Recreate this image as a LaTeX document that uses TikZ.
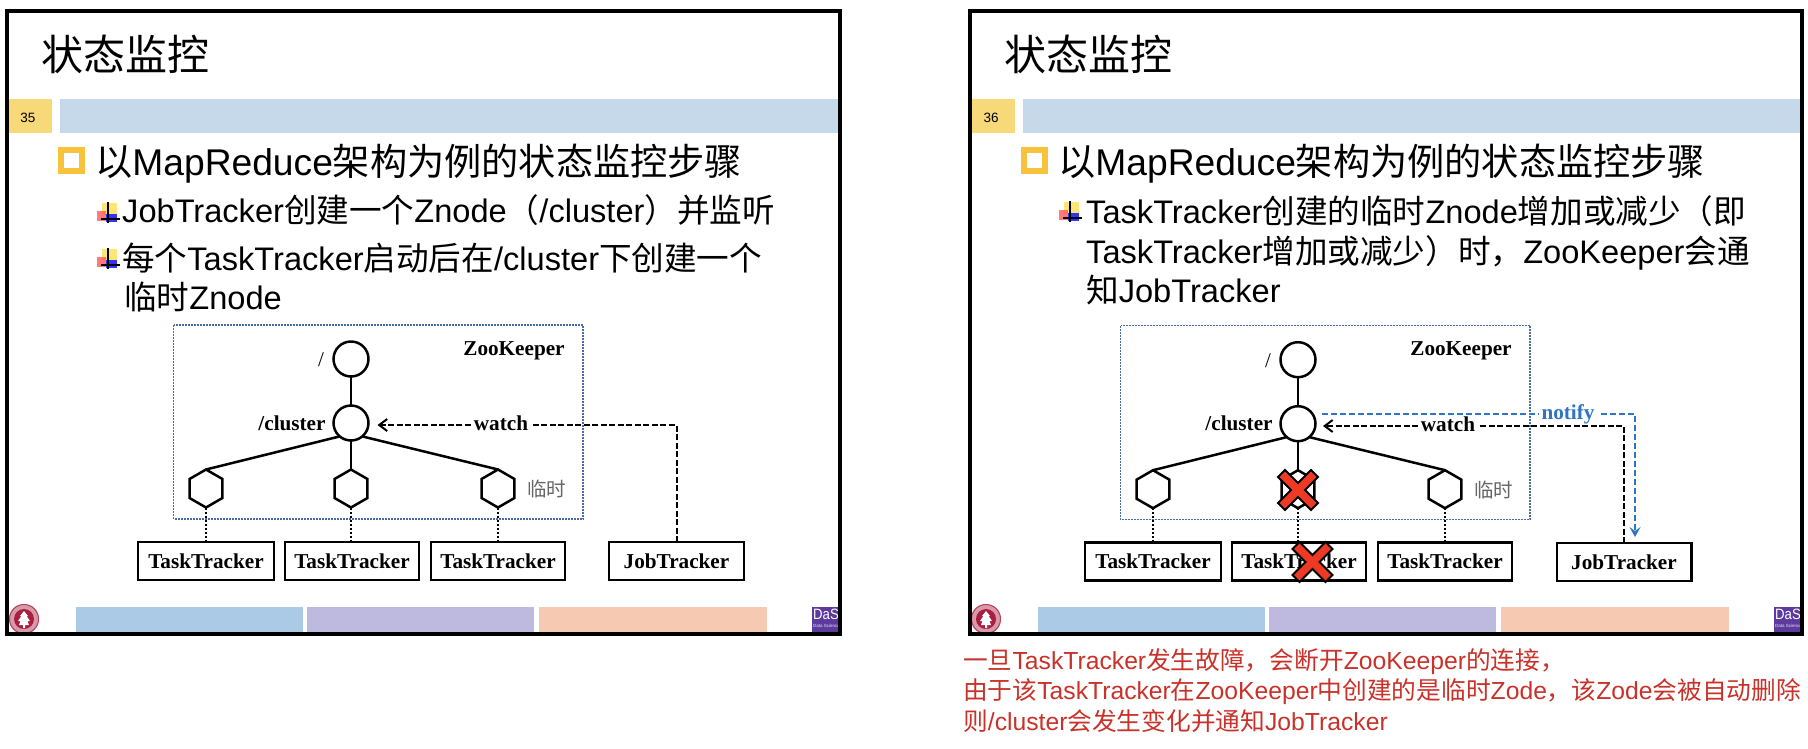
\documentclass[tikz,border=0pt]{standalone}
\usepackage{fontspec}
\setmainfont{Liberation Sans}
\newfontfamily\cjk{Noto Sans CJK SC}
\newfontfamily\tnr{Liberation Serif}
\usetikzlibrary{shapes.geometric,arrows.meta}
\newcommand\fs[1]{\fontsize{#1}{#1}\selectfont}
\newcommand\Z[1]{{\cjk #1}}
\definecolor{barblue}{HTML}{C6D9EA}
\definecolor{numyellow}{HTML}{F8D97A}
\definecolor{bulletyellow}{HTML}{F9C23C}
\definecolor{footblue}{HTML}{ABCAE6}
\definecolor{footpurple}{HTML}{BDB9DF}
\definecolor{footpeach}{HTML}{F6CAB2}
\definecolor{boxblue}{HTML}{4A6BA8}
\definecolor{notifyblue}{HTML}{2F75C4}
\definecolor{noteRed}{HTML}{C9322A}
\definecolor{xred}{HTML}{EE3A24}
\definecolor{sealred}{HTML}{A81F40}
\definecolor{dasepurple}{HTML}{5C3A9E}
\tikzset{
  slideframe/.style={draw=black,line width=4pt},
  titletext/.style={anchor=base west,inner sep=0pt,font=\fs{42}\cjk},
  headtext/.style={anchor=base west,inner sep=0pt,font=\fs{37.2}},
  subtext/.style={anchor=base west,inner sep=0pt,font=\fs{32.6}},
  notetext/.style={anchor=base west,inner sep=0pt,font=\fs{24.7},text=noteRed},
  numtext/.style={inner sep=0pt,font=\fs{13.5}},
  zkbox/.style={draw=boxblue,line width=1.2pt,dash pattern=on 2pt off 1pt},
  znode/.style={circle,draw=black,line width=2.5pt,minimum size=35pt,inner sep=0pt,outer sep=0pt},
  hexnode/.style={regular polygon,regular polygon sides=6,regular polygon rotate=30,draw=black,line width=2.5pt,minimum size=38pt,inner sep=0pt,outer sep=0pt},
  trackerbox/.style={draw=black,line width=2.5pt,minimum height=38pt,inner sep=0pt,outer sep=0pt,font=\fs{21.2}\tnr\bfseries},
  tnrlabel/.style={inner sep=0pt,font=\fs{21.2}\tnr\bfseries},
  treeline/.style={line width=2.5pt,black},
  dotline/.style={line width=2pt,dash pattern=on 2pt off 2pt,black},
  watchline/.style={line width=2pt,dash pattern=on 6pt off 2.5pt,black,-{Straight Barb[length=8pt,width=12pt]}},
  notifyline/.style={line width=2pt,dash pattern=on 6pt off 3pt,notifyblue,-{Stealth[length=10pt,width=11pt,inset=4pt]}},
  xmark/.style={fill=xred,draw=black,line width=2pt,line join=miter},
}
\newcommand\plusicon[2]{%
  \begin{scope}[shift={(#1,#2)}]
    \fill[yellow!70!orange,opacity=.55] (5,1) rectangle (20,13);
    \fill[red!65,opacity=.8] (0,9) rectangle (9,19);
    \fill[blue!80] (9,12) rectangle (20,20);
    \draw[black,line width=1.5pt] (11,0) -- (11,21);
    \draw[black,line width=1.5pt] (4,17) -- (23,17);
  \end{scope}}
\newcommand\redx[2]{\draw[xmark,shift={(#1,#2)}]
  (-13,-20) -- (0,-7) -- (13,-20) -- (20,-13) -- (7,0) -- (20,13) -- (13,20) -- (0,7) -- (-13,20) -- (-20,13) -- (-7,0) -- (-20,-13) -- cycle;}
\newcommand\seal[2]{%
  \begin{scope}[shift={(#1,#2)}]
    \fill[sealred!45] (0,0) circle (15);
    \draw[sealred!85,line width=1pt] (0,0) circle (14.5);
    \fill[sealred] (0,0) circle (10);
    \fill[white] (0,-8) -- (4,-3) -- (2.5,-3) -- (6,2) -- (3.5,2) -- (5,6) -- (1,6) -- (1,9) -- (-1,9) -- (-1,6) -- (-5,6) -- (-3.5,2) -- (-6,2) -- (-2.5,-3) -- (-4,-3) -- cycle;
  \end{scope}}
% offset, bar right end, number
\newcommand\slideback[3]{%
  \fill[numyellow] (#1+8,99) rectangle (#1+52,133);
  \fill[barblue] (#1+60,99) rectangle (#2,133);
  \node[numtext] (num#3) at (#1+28,118) {#3};
  \fill[bulletyellow] (#1+58,147) rectangle (#1+85,174);
  \fill[white] (#1+64,153) rectangle (#1+79,168);
  \node[titletext] (title#3) at (#1+41,70) {状态监控};
  \node[headtext] (head#3) at (#1+95,175) {\Z{以}MapReduce\Z{架构为例的状态监控步骤}};
}
\newcommand\slidefoot[2]{%
  \fill[footblue] (#1+76,607) rectangle (#1+303,634);
  \fill[footpurple] (#1+307,607) rectangle (#1+534,634);
  \fill[footpeach] (#1+539,607) rectangle (#1+767,634);
  \seal{#1+24}{619}
  \begin{scope}
    \clip (#1+812,607) rectangle (#2,636);
    \fill[dasepurple] (#1+812,607) rectangle (#2,636);
    \node[inner sep=0pt,anchor=base west,text=white,font=\fs{15},xscale=.88] (dase#2) at (#1+813,619) {DaSE};
    \node[inner sep=0pt,anchor=base west,text=white!85!dasepurple,font=\fs{4.5}] (dasea#2) at (#1+813,627) {Data Science};
  \end{scope}
}
\newcommand\zktree[1]{%
  \draw[zkbox] (173.5,325) rectangle (583,519);
  \node[znode] (#1root) at (351,359) {};
  \node[znode] (#1cluster) at (351,423) {};
  \node[hexnode] (#1h1) at (206,488.5) {};
  \node[hexnode] (#1h2) at (351,488.5) {};
  \node[hexnode] (#1h3) at (498,488.5) {};
  \node[trackerbox,minimum width=136pt] (#1t1) at (206,561) {\raisebox{-1pt}{TaskTracker}};
  \node[trackerbox,minimum width=134pt] (#1t2) at (352,561) {\raisebox{-1pt}{TaskTracker}};
  \node[trackerbox,minimum width=134pt] (#1t3) at (498,561) {\raisebox{-1pt}{TaskTracker}};
  \draw[treeline] (#1root) -- (#1cluster);
  \draw[treeline] (#1cluster.230) -- (#1h1.north);
  \draw[treeline] (#1cluster) -- (#1h2);
  \draw[treeline] (#1cluster.310) -- (#1h3.north);
  \draw[dotline] (#1h1.south) -- (#1h1.south |- #1t1.north);
  \draw[dotline] (#1h2.south) -- (#1h2.south |- #1t2.north);
  \draw[dotline] (#1h3.south) -- (#1h3.south |- #1t3.north);
  \node[tnrlabel] (#1zk) at (514,350.5) {ZooKeeper};
  \node[tnrlabel,font=\fs{21}\tnr] (#1slash) at (321,360) {/};
  \node[tnrlabel] (#1clabel) at (292,423) {/cluster};
  \node[inner sep=0pt,font=\fs{19.5}\cjk,text=black!60] (#1lin) at (546.5,489) {临时};
}
\begin{document}
\begin{tikzpicture}[x=1pt,y=-1pt]
\useasboundingbox (0,0) rectangle (1808,748);
\fill[white] (0,0) rectangle (1808,748);
% ---------- left slide
\slideback{0}{839}{35}
\plusicon{97}{202}
\plusicon{97}{248}
\node[subtext] (l1) at (122,222) {JobTracker\Z{创建一个}Znode\Z{（}/cluster\Z{）并监听}};
\node[subtext] (l2) at (122,270) {\Z{每个}TaskTracker\Z{启动后在}/cluster\Z{下创建一个}};
\node[subtext] (l3) at (124,309) {\Z{临时}Znode};
\slidefoot{0}{839.5}
\zktree{a}
\node[trackerbox,minimum width=135pt] (ajob) at (676.5,561) {\raisebox{-1pt}{JobTracker}};
\coordinate (awatchend) at (377.5,425);
\draw[watchline] (ajob.north) |- (awatchend);
\node[tnrlabel,fill=white,inner xsep=3pt,inner ysep=0pt] (awatch) at (501,423) {watch};
\draw[slideframe] (7,11) rectangle (839.5,634);
% ---------- right slide
\slideback{963}{1802}{36}
\plusicon{1059}{201}
\node[subtext] (r1) at (1086,223) {TaskTracker\Z{创建的临时}Znode\Z{增加或减少（即}};
\node[subtext] (r2) at (1086,263) {TaskTracker\Z{增加或减少）时，}ZooKeeper\Z{会通}};
\node[subtext] (r3) at (1086,302) {\Z{知}JobTracker};
\slidefoot{962}{1802}
\begin{scope}[xshift=947pt,yshift=-0.7pt]
  \zktree{b}
\end{scope}
\node[trackerbox,minimum width=134.5pt] (bjob) at (1624,562) {\raisebox{-1pt}{JobTracker}};
\coordinate (bwatchend) at (1323,426);
\draw[watchline] (bjob.north) |- (bwatchend);
\node[tnrlabel,fill=white,inner xsep=3pt,inner ysep=0pt] (bwatch) at (1448,424) {watch};
\coordinate (bnotifystart) at (1322,414);
\coordinate (bnotifyend) at (1635,537);
\draw[notifyline] (bnotifystart) -| (bnotifyend);
\node[tnrlabel,fill=white,inner xsep=3pt,inner ysep=0pt,text=notifyblue] (bnotify) at (1568,414) {notify};
\redx{1298}{490}
\redx{1312.5}{562}
\draw[slideframe] (970,11) rectangle (1802,634);
% ---------- red note
\node[notetext] (n1) at (963,669) {\Z{一旦}TaskTracker\Z{发生故障，会断开}ZooKeeper\Z{的连接，}};
\node[notetext] (n2) at (963,699) {\Z{由于该}TaskTracker\Z{在}ZooKeeper\Z{中创建的是临时}Zode\Z{，该}Zode\Z{会被自动删除}};
\node[notetext] (n3) at (963,730) {\Z{则}/cluster\Z{会发生变化并通知}JobTracker};
\end{tikzpicture}
\end{document}
